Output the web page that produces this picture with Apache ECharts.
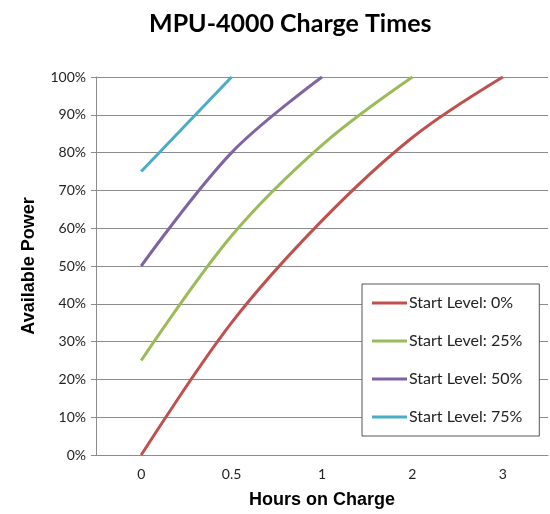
<!DOCTYPE html>
<html>
<head>
<meta charset="utf-8">
<script src="https://cdn.jsdelivr.net/npm/echarts@6/dist/echarts.min.js"></script>
<style>
  html, body { margin: 0; padding: 0; background: #fff; }
  #chart { width: 550px; height: 514px; }
</style>
</head>
<body>
<div id="chart"></div>
<script>
// hours on charge (category positions)
const hours = ['0', '0.5', '1', '2', '3'];

// available power (%) for each start level
const level0 = [0, 35, 62, 84, 100];
const level25 = [25, 58, 82, 100, null];
const level50 = [50, 80, 100, null, null];
const level75 = [75, 100, null, null, null];

const seriesNames = ['Start Level: 0%', 'Start Level: 25%', 'Start Level: 50%', 'Start Level: 75%'];
const seriesColors = ['#C0504D', '#9BBB59', '#8064A2', '#4BACC6'];
const seriesData = [level0, level25, level50, level75];

const chart = echarts.init(document.getElementById('chart'));

const makeLine = (i) => ({
  name: seriesNames[i],
  type: 'line',
  data: seriesData[i],
  smooth: 0.35,
  showSymbol: false,
  connectNulls: false,
  lineStyle: { width: 3, color: seriesColors[i] },
  itemStyle: { color: seriesColors[i] }
});

chart.setOption({
  animation: false,
  title: {
    text: 'MPU-4000 Charge Times',
    left: 144,
    top: 6,
    textStyle: { fontFamily: 'Lato', fontWeight: 'bold', fontSize: 25, color: '#000' }
  },
  grid: { left: 96, right: 2, top: 77, bottom: 59 },
  legend: {
    orient: 'vertical',
    left: 362,
    top: 284,
    padding: [11, 17, 11, 10],
    itemGap: 22,
    itemWidth: 35,
    itemHeight: 3,
    icon: 'rect',
    borderColor: '#555',
    borderWidth: 1,
    backgroundColor: '#fff',
    textStyle: { fontFamily: 'Lato', fontSize: 16, color: '#222', padding: [0, 0, 0, -3] },
    data: seriesNames
  },
  xAxis: {
    type: 'category',
    data: hours,
    boundaryGap: true,
    name: 'Hours on Charge',
    nameLocation: 'middle',
    nameGap: 36,
    nameTextStyle: { fontFamily: 'Liberation Sans', fontWeight: 'bold', fontSize: 18, color: '#000' },
    axisLine: { lineStyle: { color: '#8c8c8c' } },
    axisTick: { show: false },
    axisLabel: { fontFamily: 'Lato', fontSize: 14, color: '#222', margin: 12 }
  },
  yAxis: {
    type: 'value',
    min: 0,
    max: 100,
    interval: 10,
    name: 'Available Power',
    nameLocation: 'middle',
    nameRotate: 90,
    nameGap: 58,
    nameTextStyle: { fontFamily: 'Liberation Sans', fontWeight: 'bold', fontSize: 18, color: '#000' },
    axisLine: { show: true, lineStyle: { color: '#8c8c8c' } },
    axisTick: { show: true, length: 5, lineStyle: { color: '#8c8c8c' } },
    axisLabel: { fontFamily: 'Lato', fontSize: 14, color: '#222', margin: 10, formatter: '{value}%' },
    splitLine: { lineStyle: { color: '#8c8c8c' } }
  },
  series: [0, 1, 2, 3].map(makeLine)
});
</script>
</body>
</html>
